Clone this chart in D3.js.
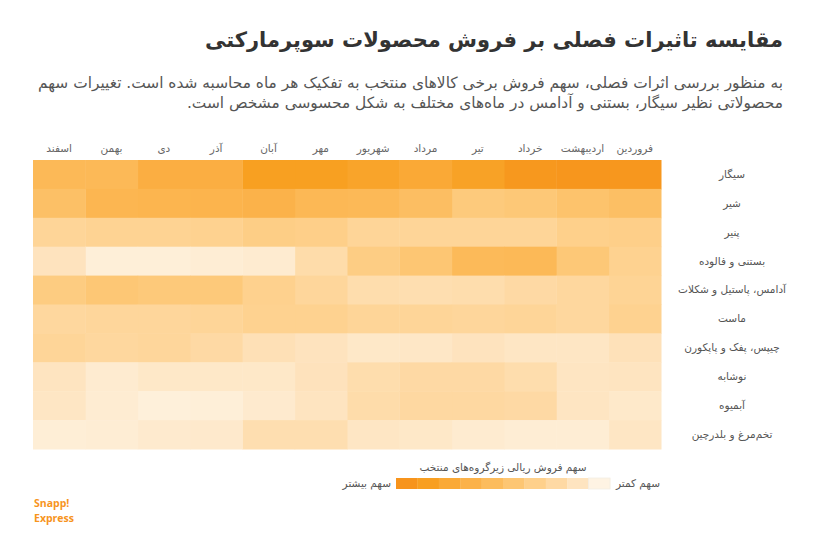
<!DOCTYPE html>
<html><head><meta charset="utf-8">
<script src="https://cdn.jsdelivr.net/npm/d3@7"></script>
<style>body{margin:0;background:#fff} svg{display:block}</style>
</head><body>
<svg id="c" width="818" height="550"></svg>
<script>
// Months in Persian calendar order (drawn right to left)
const months = ["فروردین","اردیبهشت","خرداد","تیر","مرداد","شهریور","مهر","آبان","آذر","دی","بهمن","اسفند"];
const categories = ["سیگار","شیر","پنیر","بستنی و فالوده","آدامس، پاستیل و شکلات","ماست","چیپس، پفک و پاپکورن","نوشابه","آبمیوه","تخم‌مرغ و بلدرچین"];
// relative sales-share intensity (0 = lowest, 100 = highest), ordered فروردین → اسفند
const cigarette  = [96,97,95,85,78,83,87,87,73,73,62,62];
const milk       = [56,52,47,45,57,62,63,69,67,66,65,55];
const cheese     = [40,39,34,34,34,34,40,41,37,36,36,34];
const icecream   = [37,47,62,61,49,42,28,12,10,8,8,21];
const gum        = [35,32,30,27,26,27,33,38,46,46,48,43];
const yogurt     = [37,32,34,33,34,34,37,37,34,33,33,32];
const chips      = [23,18,18,21,17,16,21,24,30,33,32,34];
const soda       = [20,19,27,30,30,27,22,16,16,16,12,20];
const juice      = [15,19,30,31,31,28,20,13,8,7,11,18];
const eggs       = [18,10,10,12,16,18,26,26,14,13,10,9];
const seriesValues = [cigarette, milk, cheese, icecream, gum, yogurt, chips, soda, juice, eggs];
const legendSteps = [99,88,78,69,59,49,39,30,20,3];

const title = "مقایسه تاثیرات فصلی بر فروش محصولات سوپرمارکتی";
const subtitleLines = [
  "به منظور بررسی اثرات فصلی، سهم فروش برخی کالاهای منتخب به تفکیک هر ماه محاسبه شده است. تغییرات سهم",
  "محصولاتی نظیر سیگار، بستنی و آدامس در ماه‌های مختلف به شکل محسوسی مشخص است."
];
const legendTitle = "سهم فروش ریالی زیرگروه‌های منتخب";
const legendMore = "سهم بیشتر";
const legendLess = "سهم کمتر";

const FONT = "'DejaVu Sans', 'Noto Sans', sans-serif";
const svg = d3.select("#c").style("font-family", FONT);

const color = d3.scaleLinear()
  .domain([0, 8, 22, 34, 47, 62, 73, 87, 100])
  .range(["#FEF6EA","#FEEFD8","#FEE2BC","#FED598","#FDC877","#FCB957","#FBAE42","#F8A021","#F7931C"])
  .clamp(true);

const x = d3.scaleBand().domain(months).range([661, 33]);
const y = d3.scaleBand().domain(categories).range([160, 449]);

// Title
svg.append("text").attr("x", 783).attr("y", 47)
  .attr("direction", "rtl").attr("text-anchor", "start")
  .attr("font-size", 21).attr("font-weight", "bold").attr("fill", "#333")
  .text(title);

svg.selectAll("text.sub").data(subtitleLines).join("text").attr("class","sub")
  .attr("x", 783).attr("y", (d,i) => 88 + i*20)
  .attr("direction", "rtl").attr("text-anchor", "start")
  .attr("font-size", 15.4).attr("fill", "#555")
  .text(d => d);

// cells
const cells = [];
categories.forEach((c, i) => months.forEach((m, j) => cells.push({c, m, v: seriesValues[i][j]})));
svg.append("g").selectAll("rect").data(cells).join("rect")
  .attr("x", d => x(d.m)).attr("y", d => y(d.c))
  .attr("width", x.bandwidth() + 0.5).attr("height", y.bandwidth() + 0.5)
  .attr("fill", d => color(d.v));

// column labels
const xAxis = d3.axisTop(x).tickSize(0).tickPadding(0);
const gx = svg.append("g").attr("transform", "translate(0,152)").call(xAxis);
gx.select(".domain").remove();
gx.selectAll("text").attr("font-size", 10.5).attr("fill", "#666").attr("font-family", FONT).attr("dy", 0);

// row labels
const gy = svg.append("g").attr("transform", "translate(732,0)").call(d3.axisRight(y).tickSize(0).tickPadding(0));
gy.select(".domain").remove();
gy.selectAll("text").attr("font-size", 10.5).attr("fill", "#555").attr("font-family", FONT)
  .attr("text-anchor", "middle").attr("x", 0);

// legend
const lx = d3.scaleBand().domain(d3.range(legendSteps.length)).range([396, 610]);
svg.append("g").selectAll("rect").data(legendSteps).join("rect")
  .attr("x", (d,i) => lx(i)).attr("y", 478).attr("width", lx.bandwidth()+0.3).attr("height", 11)
  .attr("fill", d => color(d));
svg.append("rect").attr("x", lx(9)).attr("y", 478).attr("width", lx.bandwidth()).attr("height", 11)
  .attr("fill", "none").attr("stroke", "#f3ede4").attr("stroke-width", 0.8);
svg.append("text").attr("x", 503).attr("y", 471).attr("text-anchor", "middle")
  .attr("font-size", 10.5).attr("fill", "#555").text(legendTitle);
svg.append("text").attr("x", 660).attr("y", 487).attr("direction","rtl").attr("text-anchor", "start")
  .attr("font-size", 10.5).attr("fill", "#555").text(legendLess);
svg.append("text").attr("x", 391).attr("y", 487).attr("direction","rtl").attr("text-anchor", "start")
  .attr("font-size", 10.5).attr("fill", "#555").text(legendMore);

// logo
svg.append("text").attr("x", 34).attr("y", 507).attr("font-size", 10.5).attr("font-weight", "bold")
  .attr("fill", "#F7941D").attr("font-family", "'Open Sans', sans-serif").text("Snapp!");
svg.append("text").attr("x", 34).attr("y", 522).attr("font-size", 10.5).attr("font-weight", "bold")
  .attr("fill", "#F7941D").attr("font-family", "'Open Sans', sans-serif").text("Express");
</script>
</body></html>
